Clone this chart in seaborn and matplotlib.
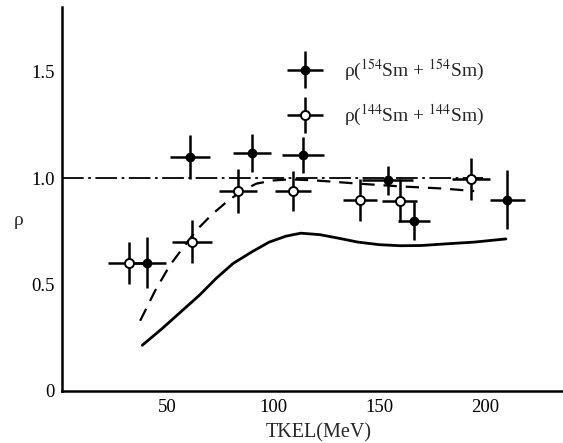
import matplotlib
matplotlib.use("Agg")
import matplotlib.pyplot as plt
from matplotlib.legend_handler import HandlerErrorbar
import seaborn as sns

# ---- data ----
filled_x = [40.2, 60.4, 89.9, 113.9, 154.1, 166.4, 210.7]
filled_y = [0.603, 1.10, 1.12, 1.11, 0.99, 0.80, 0.90]
filled_xerr = [9, 9.5, 9, 10, 12, 7.5, 8.4]
filled_yerr = [0.12, 0.104, 0.09, 0.086, 0.07, 0.09, 0.14]

open_x = [31.9, 61.5, 83.3, 109.3, 140.9, 159.8, 193.6]
open_y = [0.603, 0.702, 0.94, 0.94, 0.898, 0.895, 0.997]
open_xerr = [10, 9.5, 9, 8.3, 7.9, 8.3, 9]
open_yerr = [0.098, 0.1, 0.104, 0.094, 0.1, 0.1, 0.1]

solid_x = [38, 47, 56, 65, 73, 81, 90, 98, 106, 113, 122, 131, 140, 150, 160, 170, 182, 195, 210]
solid_y = [0.215, 0.29, 0.37, 0.45, 0.53, 0.60, 0.655, 0.70, 0.728, 0.742, 0.735, 0.718,
           0.70, 0.688, 0.683, 0.684, 0.692, 0.700, 0.715]

dashed_x = [37, 44, 51, 57, 64, 71, 78, 85, 92, 100, 108, 120, 140, 160, 180, 195]
dashed_y = [0.33, 0.47, 0.59, 0.67, 0.76, 0.83, 0.89, 0.94, 0.975, 0.99, 0.995, 0.99,
            0.975, 0.962, 0.952, 0.94]

ref_x = [0, 199]
ref_y = [1.0, 1.0]

x_ticks = [50, 100, 150, 200]
y_ticks = [0, 0.5, 1.0, 1.5]
y_ticklabels = ["0", "0.5", "1.0", "1.5"]
label_154 = r"ρ($^{154}$Sm + $^{154}$Sm)"
label_144 = r"ρ($^{144}$Sm + $^{144}$Sm)"

# ---- style ----
sns.set_theme(style="white")
plt.rcParams["font.family"] = ["Liberation Serif", "DejaVu Serif"]
plt.rcParams["mathtext.fontset"] = "stix"

fig = plt.figure(figsize=(5.63, 4.43), dpi=100)
ax = fig.add_axes([0.110, 0.1174, 0.890, 0.8666])

sns.lineplot(x=ref_x, y=ref_y, ax=ax, color="black", lw=1.3,
             linestyle=(0, (12, 2.5, 1.5, 2.5)))
sns.lineplot(x=dashed_x, y=dashed_y, ax=ax, color="black", lw=1.6,
             linestyle=(0, (6, 4)), sort=False)
sns.lineplot(x=solid_x, y=solid_y, ax=ax, color="black", lw=2.0, sort=False)

h1 = ax.errorbar(filled_x, filled_y, xerr=filled_xerr, yerr=filled_yerr, fmt="o",
                 color="black", mfc="black", mec="black", ms=6, elinewidth=1.8,
                 capsize=0, zorder=5)
h2 = ax.errorbar(open_x, open_y, xerr=open_xerr, yerr=open_yerr, fmt="o",
                 color="black", mfc="white", mec="black", ms=6.5, mew=1.4,
                 elinewidth=1.8, capsize=0, zorder=6)

ax.set_xlim(0, 237)
ax.set_ylim(0, 1.805)
ax.set_xticks(x_ticks)
ax.set_yticks(y_ticks)
ax.set_yticklabels(y_ticklabels)
ax.tick_params(axis="both", direction="in", length=5, width=1.5, labelsize=13.5,
               colors="black")
ax.tick_params(axis="x", pad=6)
ax.tick_params(axis="y", pad=5)
for s in ["top", "right"]:
    ax.spines[s].set_visible(False)
for s in ["left", "bottom"]:
    ax.spines[s].set_color("black")
    ax.spines[s].set_linewidth(1.8)

ax.set_xlabel("TKEL(MeV)", fontsize=14.5)
ax.xaxis.set_label_coords(0.513, -0.083)
ax.set_ylabel("ρ", fontsize=14, rotation=0, va="center", ha="center")
ax.yaxis.set_label_coords(-0.086, 0.445)

hmap = {h1: HandlerErrorbar(xerr_size=0.93, yerr_size=0.93),
        h2: HandlerErrorbar(xerr_size=0.93, yerr_size=0.93)}
ax.legend([h1, h2], [label_154, label_144], loc="center left",
          bbox_to_anchor=(0.431, 0.776), frameon=False, fontsize=14,
          handlelength=2.0, handletextpad=1.0, labelspacing=1.05,
          borderaxespad=0, handler_map=hmap)

fig.savefig("out.png", dpi=100)
